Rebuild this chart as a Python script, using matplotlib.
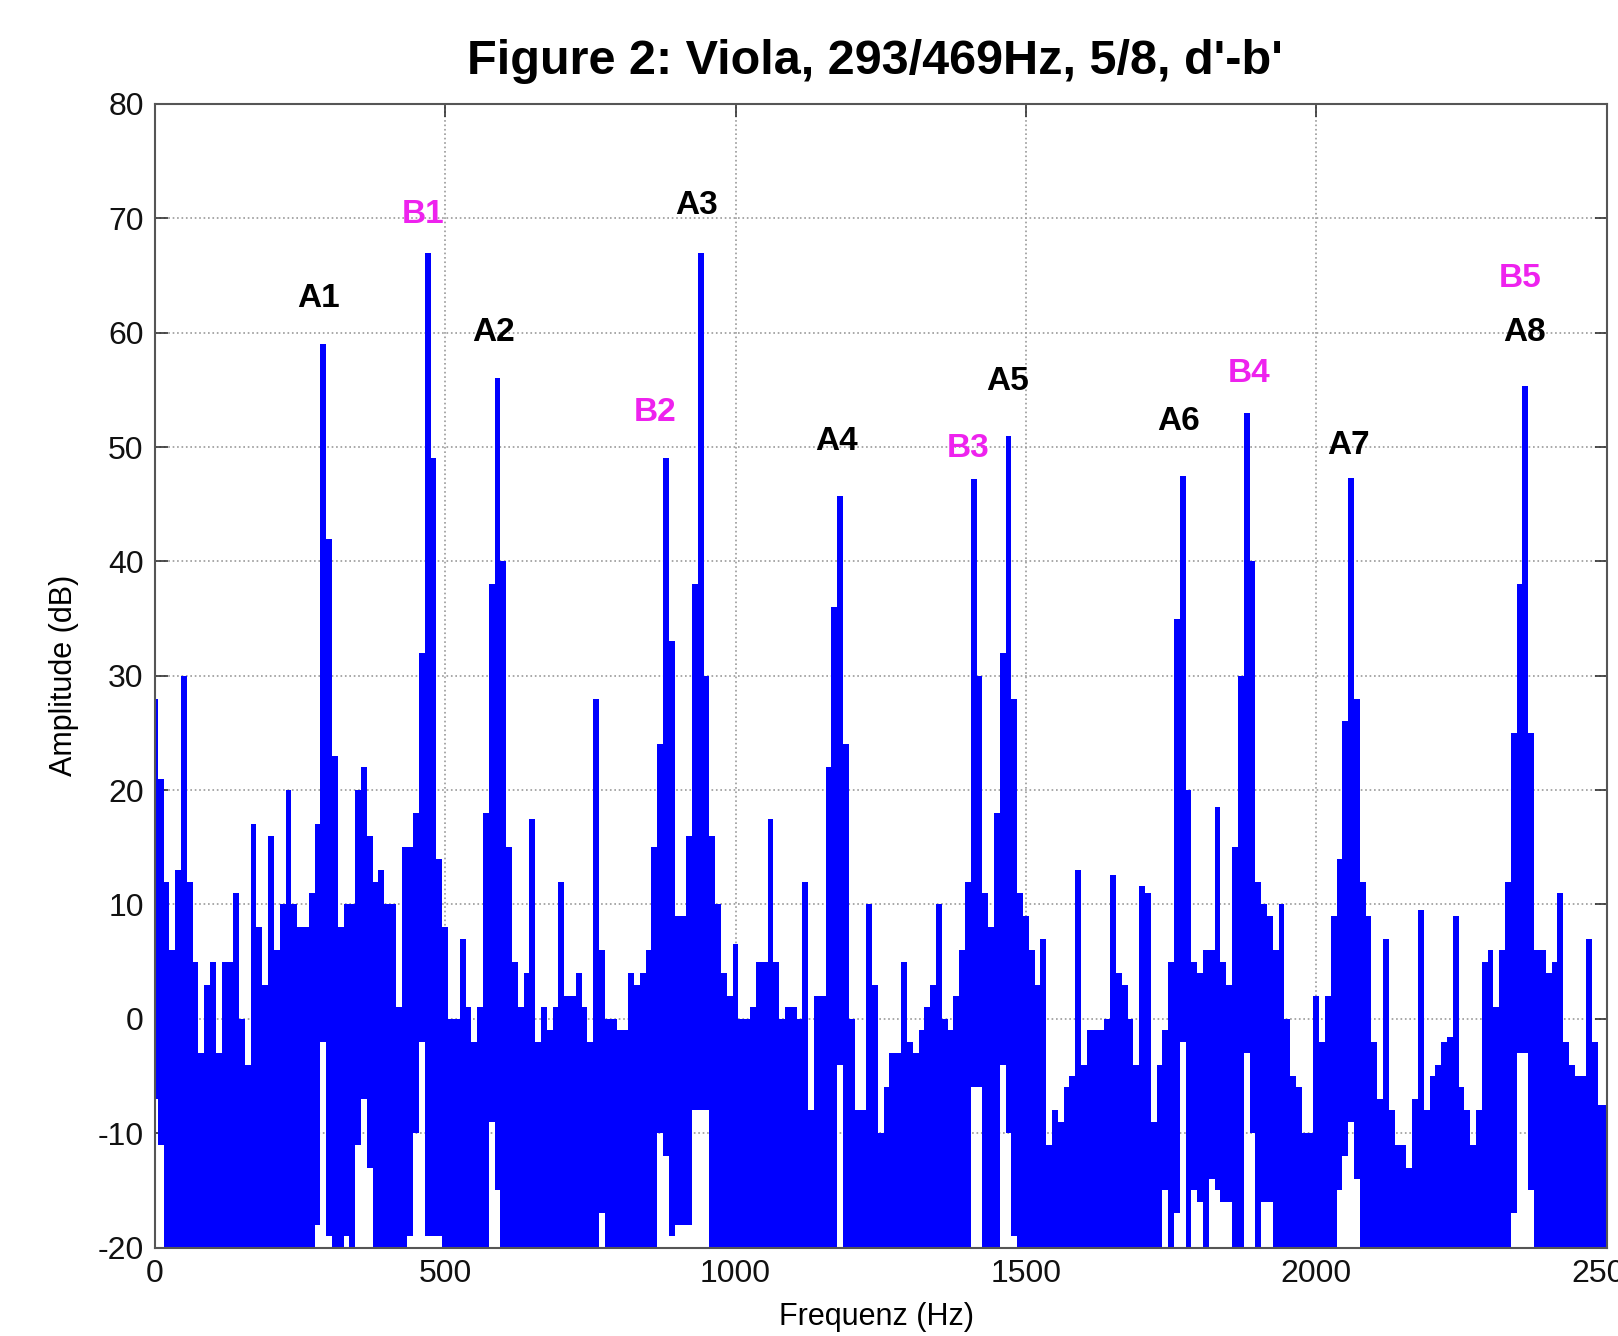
import numpy as np
import matplotlib
matplotlib.use("Agg")
import matplotlib.pyplot as plt

plt.rcParams['font.family'] = ['Liberation Sans', 'DejaVu Sans']
plt.rcParams['axes.unicode_minus'] = False

# Spectrum, one value every 10 Hz (0 .. 2500 Hz)
freqs = list(range(0, 2510, 10))
upper = [
    28, 21, 12, 6, 13, 30, 12, 5, -3, 3,            # 0-90
    5, -3, 5, 5, 11, 0, -4, 17, 8, 3,               # 100-190
    16, 6, 10, 20, 10, 8, 8, 11, 17, 59,            # 200-290
    42, 23, 8, 10, 10, 20, 22, 16, 12, 13,          # 300-390
    10, 10, 1, 15, 15, 18, 32, 67, 49, 14,          # 400-490
    8, 0, 0, 7, 1, -2, 1, 18, 38, 56,               # 500-590
    40, 15, 5, 1, 4, 17.5, -2, 1, -1, 1,            # 600-690
    12, 2, 2, 4, 1, -2, 28, 6, 0, 0,                # 700-790
    -1, -1, 4, 3, 4, 6, 15, 24, 49, 33,             # 800-890
    9, 9, 16, 38, 67, 30, 16, 10, 4, 2,             # 900-990
    6.5, 0, 0, 1, 5, 5, 17.5, 5, 0, 1,              # 1000-1090
    1, 0, 12, -8, 2, 2, 22, 36, 45.7, 24,           # 1100-1190
    0, -8, -8, 10, 3, -10, -6, -3, -3, 5,           # 1200-1290
    -2, -3, -1, 1, 3, 10, 0, -1, 2, 6,              # 1300-1390
    12, 47.2, 30, 11, 8, 18, 32, 51, 28, 11,        # 1400-1490
    9, 6, 3, 7, -11, -8, -9, -6, -5, 13,            # 1500-1590
    -4, -1, -1, -1, 0, 12.6, 4, 3, 0, -4,           # 1600-1690
    11.6, 11, -9, -4, -1, 5, 35, 47.5, 20, 5,       # 1700-1790
    4, 6, 6, 18.5, 5, 3, 15, 30, 53, 40,            # 1800-1890
    12, 10, 9, 6, 10, 0, -5, -6, -10, -10,          # 1900-1990
    2, -2, 2, 9, 14, 26, 47.3, 28, 12, 9,           # 2000-2090
    -2, -7, 7, -8, -11, -11, -13, -7, 9.5, -8,      # 2100-2190
    -5, -4, -2, -1.6, 9, -6, -8, -11, -8, 5,        # 2200-2290
    6, 1, 6, 12, 25, 38, 55.3, 25, 6, 6,            # 2300-2390
    4, 5, 11, -2, -4, -5, -5, 7, -2, -7.5,          # 2400-2490
    -7.5,                                           # 2500
]

# places where the trace does not reach down to the -20 dB floor
gap_freqs = [0, 10, 280, 290, 300, 330, 350, 360, 370,
             440, 450, 460, 470, 480, 490, 580, 590, 770,
             870, 880, 890, 900, 910, 920, 930, 940, 950, 1180,
             1410, 1420, 1460, 1470, 1480,
             1740, 1760, 1770, 1790, 1800, 1820, 1830, 1840, 1850,
             1880, 1890, 1910, 1920, 2040, 2050, 2060, 2070,
             2340, 2350, 2360, 2370]
gap_floor = [-7, -11, -18, -2, -19, -19, -11, -7, -13,
             -19, -10, -2, -19, -19, -19, -9, -15, -17,
             -10, -12, -19, -18, -18, -18, -8, -8, -8, -4,
             -6, -6, -4, -10, -19,
             -15, -17, -2, -15, -16, -14, -15, -16, -16,
             -3, -10, -16, -16, -15, -12, -9, -14,
             -17, -3, -3, -15]

# peak labels
labels = ['A1', 'B1', 'A2', 'B2', 'A3', 'A4', 'B3', 'A5', 'A6', 'B4', 'A7', 'B5', 'A8']
label_f = [281, 462, 583, 862, 933, 1174, 1400, 1469, 1763, 1885, 2056, 2351, 2358]
label_db = [63.0, 70.3, 60.0, 53.0, 71.1, 50.5, 49.9, 55.7, 52.2, 56.4, 50.1, 64.7, 60.0]

lower = [-20.0] * len(freqs)
for f, v in zip(gap_freqs, gap_floor):
    lower[freqs.index(f)] = v

fig = plt.figure(figsize=(16.18, 13.36), dpi=100)
ax = fig.add_axes([0.0957, 0.0662, 0.8973, 0.856])

ax.fill_between(freqs, lower, upper, step='mid', color='#0000ff', linewidth=0)

for lab, f, v in zip(labels, label_f, label_db):
    col = '#ee22ee' if lab.startswith('B') else 'black'
    ax.text(f, v, lab, color=col, fontsize=24, fontweight='bold', ha='center', va='center')

ax.set_xlim(0, 2500)
ax.set_ylim(-20, 80)
ax.set_xticks(np.arange(0, 2501, 500))
ax.set_yticks(np.arange(-20, 81, 10))
ax.set_axisbelow(True)
ax.grid(True, linestyle=':', color='#999999', linewidth=1.2)
ax.tick_params(direction='in', length=9, width=1.2, top=True, right=True,
               labelsize=23, pad=8, colors='#333333', labelcolor='#111111')
for s in ax.spines.values():
    s.set_color('#555555')
    s.set_linewidth(1.5)

ax.set_xlabel('Frequenz (Hz)', fontsize=22)
ax.set_ylabel('Amplitude (dB)', fontsize=22)
ax.xaxis.set_label_coords(0.497, -0.048)
ax.yaxis.set_label_coords(-0.052, 0.5)

fig.text(875 / 1618, 1 - 61 / 1336, "Figure 2: Viola, 293/469Hz, 5/8, d'-b'",
         fontsize=35, fontweight='bold', ha='center', va='center')

fig.savefig('out.png', dpi=100)
